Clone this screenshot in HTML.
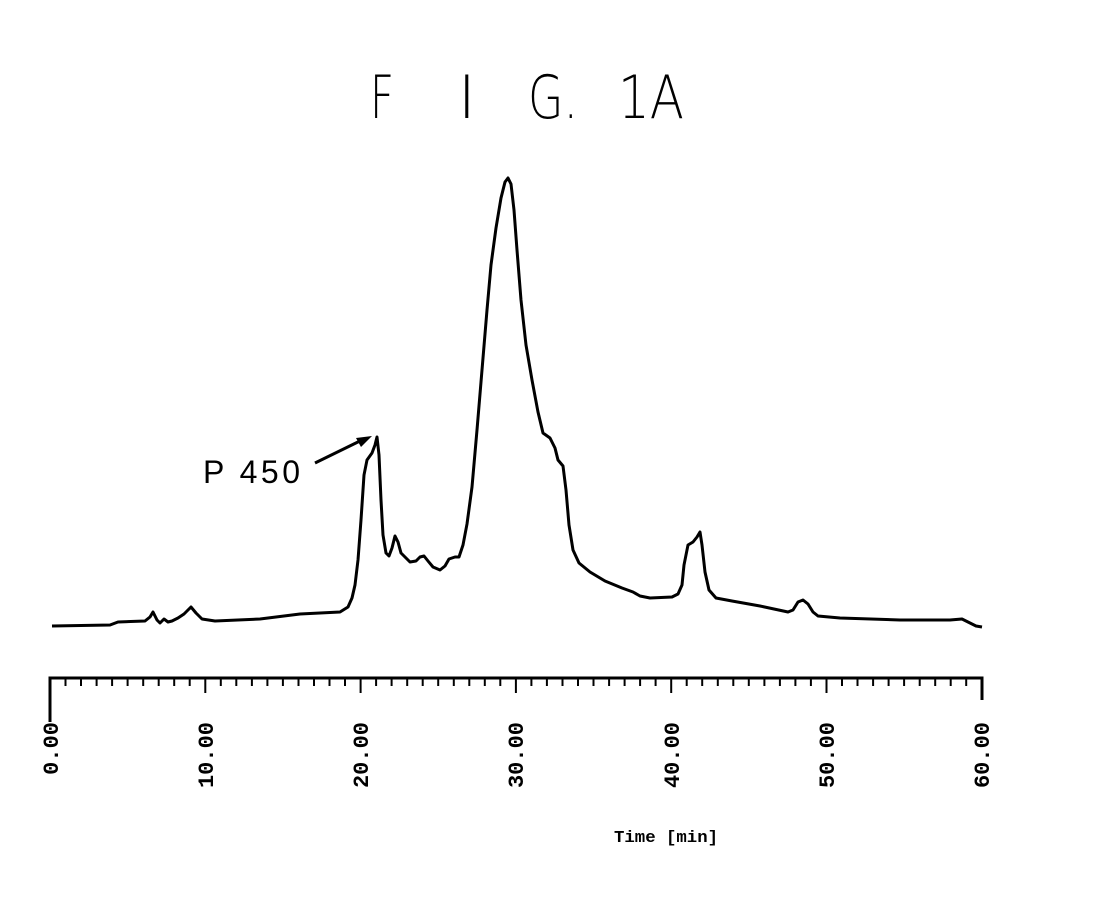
<!DOCTYPE html>
<html><head><meta charset="utf-8"><style>
html,body{margin:0;padding:0;background:#fff;}
svg{display:block;}
</style></head><body>
<svg width="1106" height="899" viewBox="0 0 1106 899" xmlns="http://www.w3.org/2000/svg">
<g font-family="DejaVu Sans, Liberation Sans, sans-serif" font-weight="200" fill="#000">
<text x="370" y="118" font-size="60" textLength="24" lengthAdjust="spacingAndGlyphs">F</text>
<text x="458" y="118" font-size="60">I</text>
<text x="528" y="118" font-size="60" textLength="50" lengthAdjust="spacingAndGlyphs">G.</text>
<text x="618" y="118" font-size="60" textLength="66" lengthAdjust="spacingAndGlyphs">1A</text>
</g>
<text x="203" y="483" font-family="Liberation Sans, sans-serif" font-size="32" textLength="97" lengthAdjust="spacing" fill="#000">P 450</text>
<line x1="315" y1="463" x2="362" y2="440" stroke="#000" stroke-width="3"/>
<polygon points="372,436 356,438 361,447" fill="#000"/>
<path fill="none" stroke="#000" stroke-width="3" stroke-linejoin="round" d="M52,626 L110,625 L118,622 L145,621 L150,617 L153,612 L157,620 L160,623 L164,619 L168,622 L172,621 L178,618 L184,614 L191,607 L196,613 L202,619 L215,621 L260,619 L300,614 L340,612 L348,607 L352,598 L355,585 L358,560 L361,520 L364,475 L367,460 L372,453 L375,445 L377,437 L379,455 L381,500 L383,535 L386,553 L389,556 L392,548 L395,536 L398,542 L401,553 L405,557 L410,562 L416,561 L420,557 L424,556 L428,561 L433,567 L440,570 L445,566 L449,559 L455,557 L459,557 L463,545 L467,524 L472,487 L477,430 L482,370 L487,310 L491,265 L496,228 L501,198 L505,182 L508,178 L511,184 L514,210 L517,250 L521,300 L526,345 L532,380 L538,412 L543,433 L550,438 L555,448 L558,460 L563,466 L566,490 L569,525 L573,550 L579,563 L590,572 L605,581 L622,588 L633,592 L640,596 L650,598 L672,597 L678,594 L682,585 L684,565 L688,545 L693,542 L697,537 L700,532 L702,545 L705,572 L709,590 L716,598 L732,601 L760,606 L788,612 L793,610 L798,602 L803,600 L808,604 L813,612 L818,616 L840,618 L900,620 L950,620 L962,619 L968,622 L976,626 L982,627"/>
<g stroke="#000" stroke-width="3" fill="none">
<path d="M50,722 L50,678 L982,678 L982,700"/>
</g>
<g stroke="#000" stroke-width="2">
<line x1="65.5" y1="678" x2="65.5" y2="686"/><line x1="81" y1="678" x2="81" y2="686"/><line x1="96.6" y1="678" x2="96.6" y2="686"/><line x1="112.1" y1="678" x2="112.1" y2="686"/><line x1="127.6" y1="678" x2="127.6" y2="686"/><line x1="143.2" y1="678" x2="143.2" y2="686"/><line x1="158.7" y1="678" x2="158.7" y2="686"/><line x1="174.2" y1="678" x2="174.2" y2="686"/><line x1="189.7" y1="678" x2="189.7" y2="686"/>
<line x1="205.3" y1="678" x2="205.3" y2="693"/>
<line x1="220.8" y1="678" x2="220.8" y2="686"/><line x1="236.3" y1="678" x2="236.3" y2="686"/><line x1="251.9" y1="678" x2="251.9" y2="686"/><line x1="267.4" y1="678" x2="267.4" y2="686"/><line x1="282.9" y1="678" x2="282.9" y2="686"/><line x1="298.5" y1="678" x2="298.5" y2="686"/><line x1="314" y1="678" x2="314" y2="686"/><line x1="329.5" y1="678" x2="329.5" y2="686"/><line x1="345" y1="678" x2="345" y2="686"/>
<line x1="360.6" y1="678" x2="360.6" y2="693"/>
<line x1="376.1" y1="678" x2="376.1" y2="686"/><line x1="391.6" y1="678" x2="391.6" y2="686"/><line x1="407.2" y1="678" x2="407.2" y2="686"/><line x1="422.7" y1="678" x2="422.7" y2="686"/><line x1="438.2" y1="678" x2="438.2" y2="686"/><line x1="453.8" y1="678" x2="453.8" y2="686"/><line x1="469.3" y1="678" x2="469.3" y2="686"/><line x1="484.8" y1="678" x2="484.8" y2="686"/><line x1="500.3" y1="678" x2="500.3" y2="686"/>
<line x1="515.9" y1="678" x2="515.9" y2="693"/>
<line x1="531.4" y1="678" x2="531.4" y2="686"/><line x1="546.9" y1="678" x2="546.9" y2="686"/><line x1="562.5" y1="678" x2="562.5" y2="686"/><line x1="578" y1="678" x2="578" y2="686"/><line x1="593.5" y1="678" x2="593.5" y2="686"/><line x1="609.1" y1="678" x2="609.1" y2="686"/><line x1="624.6" y1="678" x2="624.6" y2="686"/><line x1="640.1" y1="678" x2="640.1" y2="686"/><line x1="655.6" y1="678" x2="655.6" y2="686"/>
<line x1="671.2" y1="678" x2="671.2" y2="693"/>
<line x1="686.7" y1="678" x2="686.7" y2="686"/><line x1="702.2" y1="678" x2="702.2" y2="686"/><line x1="717.8" y1="678" x2="717.8" y2="686"/><line x1="733.3" y1="678" x2="733.3" y2="686"/><line x1="748.8" y1="678" x2="748.8" y2="686"/><line x1="764.4" y1="678" x2="764.4" y2="686"/><line x1="779.9" y1="678" x2="779.9" y2="686"/><line x1="795.4" y1="678" x2="795.4" y2="686"/><line x1="810.9" y1="678" x2="810.9" y2="686"/>
<line x1="826.5" y1="678" x2="826.5" y2="693"/>
<line x1="842" y1="678" x2="842" y2="686"/><line x1="857.5" y1="678" x2="857.5" y2="686"/><line x1="873.1" y1="678" x2="873.1" y2="686"/><line x1="888.6" y1="678" x2="888.6" y2="686"/><line x1="904.1" y1="678" x2="904.1" y2="686"/><line x1="919.7" y1="678" x2="919.7" y2="686"/><line x1="935.2" y1="678" x2="935.2" y2="686"/><line x1="950.7" y1="678" x2="950.7" y2="686"/><line x1="966.2" y1="678" x2="966.2" y2="686"/>
</g>
<g font-family="Liberation Mono, monospace" font-weight="bold" font-size="22" fill="#000" text-anchor="end">
<text transform="translate(58,722) rotate(-90)">0.00</text>
<text transform="translate(213,722) rotate(-90)">10.00</text>
<text transform="translate(368,722) rotate(-90)">20.00</text>
<text transform="translate(523,722) rotate(-90)">30.00</text>
<text transform="translate(679,722) rotate(-90)">40.00</text>
<text transform="translate(834,722) rotate(-90)">50.00</text>
<text transform="translate(989,722) rotate(-90)">60.00</text>
</g>
<text x="614" y="842" font-family="Liberation Mono, monospace" font-weight="bold" font-size="17" textLength="104" lengthAdjust="spacingAndGlyphs" fill="#000">Time [min]</text>
</svg>
</body></html>
